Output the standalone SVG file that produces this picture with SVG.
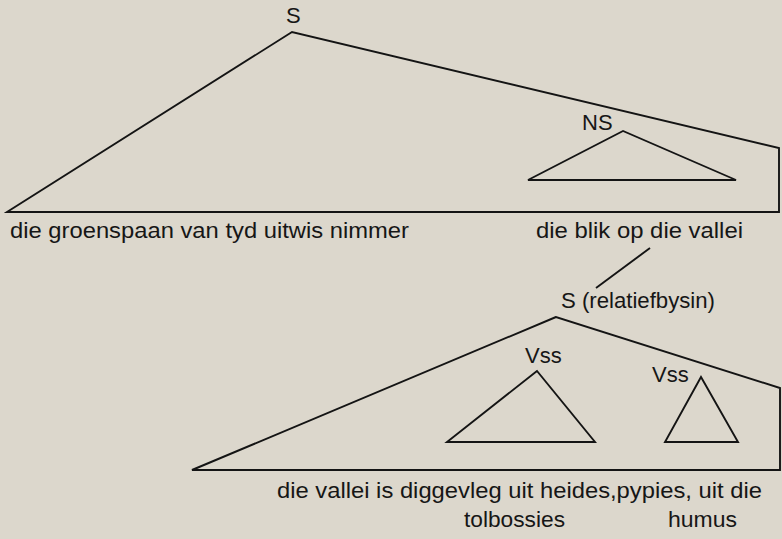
<svg xmlns="http://www.w3.org/2000/svg" width="782" height="539" viewBox="0 0 782 539">
<style>
.bg{fill:#dcd7cc}
.ln{fill:none;stroke:#141414;stroke-width:1.9;stroke-linejoin:miter}
.tx{font-family:"Liberation Sans",Arial,sans-serif;font-size:22px;fill:#161616}
</style>
<rect class="bg" x="0" y="0" width="782" height="539"/>
<g id="node-S-main">
<text class="tx" x="286" y="23">S</text>
<path class="ln" d="M292,32 L7,212 L779,212 L779,148 Z"/>
</g>
<g id="node-NS">
<text class="tx" x="582" y="130">NS</text>
<path class="ln" d="M623,131 L528,180 L736,180 Z"/>
</g>
<g id="node-text-top">
<text class="tx" x="10" y="238" textLength="399" lengthAdjust="spacingAndGlyphs">die groenspaan van tyd uitwis nimmer</text>
<text class="tx" x="536" y="238" textLength="207" lengthAdjust="spacingAndGlyphs">die blik op die vallei</text>
</g>
<g id="node-S-relatief">
<text class="tx" x="561" y="308" textLength="154" lengthAdjust="spacingAndGlyphs">S (relatiefbysin)</text>
<path class="ln" d="M556,317 L192,470 L780,470 L780,388 Z"/>
</g>
<g id="node-Vss1">
<text class="tx" x="525" y="363">Vss</text>
<path class="ln" d="M537,371 L447,442 L595,442 Z"/>
</g>
<g id="node-Vss2">
<text class="tx" x="652" y="382">Vss</text>
<path class="ln" d="M701,377 L665,442 L738,442 Z"/>
</g>
<g id="node-text-bottom">
<text class="tx" x="277" y="498" textLength="485" lengthAdjust="spacingAndGlyphs">die vallei is diggevleg uit heides,pypies, uit die</text>
<text class="tx" x="464" y="527" textLength="101" lengthAdjust="spacingAndGlyphs">tolbossies</text>
<text class="tx" x="668" y="527" textLength="69" lengthAdjust="spacingAndGlyphs">humus</text>
</g>
<g id="connectors">
<line class="ln" x1="650" y1="248" x2="596" y2="288"/>
</g>
</svg>
